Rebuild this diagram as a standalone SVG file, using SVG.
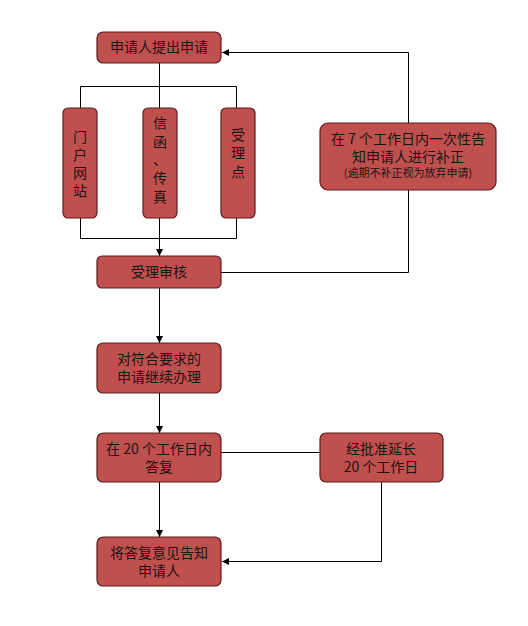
<svg xmlns="http://www.w3.org/2000/svg" width="528" height="626" viewBox="0 0 528 626">
<style>
.n{fill:#c0504d;stroke:#5b1f1e;stroke-width:1.2}
.t{font-family:"Noto Sans CJK SC","Noto Sans",sans-serif;font-size:14px;fill:#1e1414;text-anchor:middle}
.s{font-size:11px}
.c{fill:none;stroke:#000;stroke-width:1}
</style>
<defs>
<marker id="a" markerWidth="8" markerHeight="8" refX="7" refY="4" orient="auto" markerUnits="userSpaceOnUse">
<path d="M0,0.5 L7,4 L0,7.5 Z" fill="#000"/>
</marker>
</defs>
<rect width="528" height="626" fill="#fff"/>
<g id="connectors">
<path class="c" d="M159.5,63 V86.5"/>
<path class="c" d="M80.5,108 V86.5 H236.5 V108"/>
<path class="c" d="M159.5,86.5 V108"/>
<path class="c" d="M80.5,218 V238.5 H236.5 V218"/>
<path class="c" d="M159.5,218 V256" marker-end="url(#a)"/>
<path class="c" d="M221,272.5 H408.5 V190"/>
<path class="c" d="M408.5,123 V52.5 H222" marker-end="url(#a)"/>
<path class="c" d="M159.5,288 V343" marker-end="url(#a)"/>
<path class="c" d="M159.5,393 V433" marker-end="url(#a)"/>
<path class="c" d="M221,452.5 H320"/>
<path class="c" d="M159.5,482 V537" marker-end="url(#a)"/>
<path class="c" d="M381.5,482 V561.5 H222" marker-end="url(#a)"/>
</g>
<g id="n1"><rect class="n" x="97" y="32" width="124" height="31" rx="6"/><text class="t" x="159" y="52">申请人提出申请</text></g>
<g id="n2"><rect class="n" x="63" y="108" width="34" height="110" rx="5"/>
<text class="t" x="80" y="142">门</text><text class="t" x="80" y="160">户</text><text class="t" x="80" y="178">网</text><text class="t" x="80" y="196">站</text></g>
<g id="n3"><rect class="n" x="143" y="108" width="34" height="110" rx="5"/>
<text class="t" x="160" y="128">信</text><text class="t" x="160" y="147">函</text><text class="t" x="160" y="165">、</text><text class="t" x="160" y="183">传</text><text class="t" x="160" y="202">真</text></g>
<g id="n4"><rect class="n" x="221" y="108" width="34" height="110" rx="5"/>
<text class="t" x="238" y="140">受</text><text class="t" x="238" y="158">理</text><text class="t" x="238" y="177">点</text></g>
<g id="n5"><rect class="n" x="320" y="123" width="176" height="67" rx="8"/>
<text class="t" x="408" y="144">在 7 个工作日内一次性告</text>
<text class="t" x="408" y="162">知申请人进行补正</text>
<text class="t s" x="408" y="177">(逾期不补正视为放弃申请)</text></g>
<g id="n6"><rect class="n" x="97" y="256" width="124" height="32" rx="5"/><text class="t" x="159" y="277">受理审核</text></g>
<g id="n7"><rect class="n" x="97" y="343" width="124" height="50" rx="6"/>
<text class="t" x="159" y="364">对符合要求的</text><text class="t" x="159" y="382">申请继续办理</text></g>
<g id="n8"><rect class="n" x="97" y="433" width="124" height="49" rx="6"/>
<text class="t" x="159" y="454">在 20 个工作日内</text><text class="t" x="159" y="472">答复</text></g>
<g id="n9"><rect class="n" x="320" y="433" width="123" height="49" rx="6"/>
<text class="t" x="381" y="454">经批准延长</text><text class="t" x="381" y="472">20 个工作日</text></g>
<g id="n10"><rect class="n" x="97" y="537" width="124" height="49" rx="6"/>
<text class="t" x="159" y="558">将答复意见告知</text><text class="t" x="159" y="576">申请人</text></g>
</svg>
